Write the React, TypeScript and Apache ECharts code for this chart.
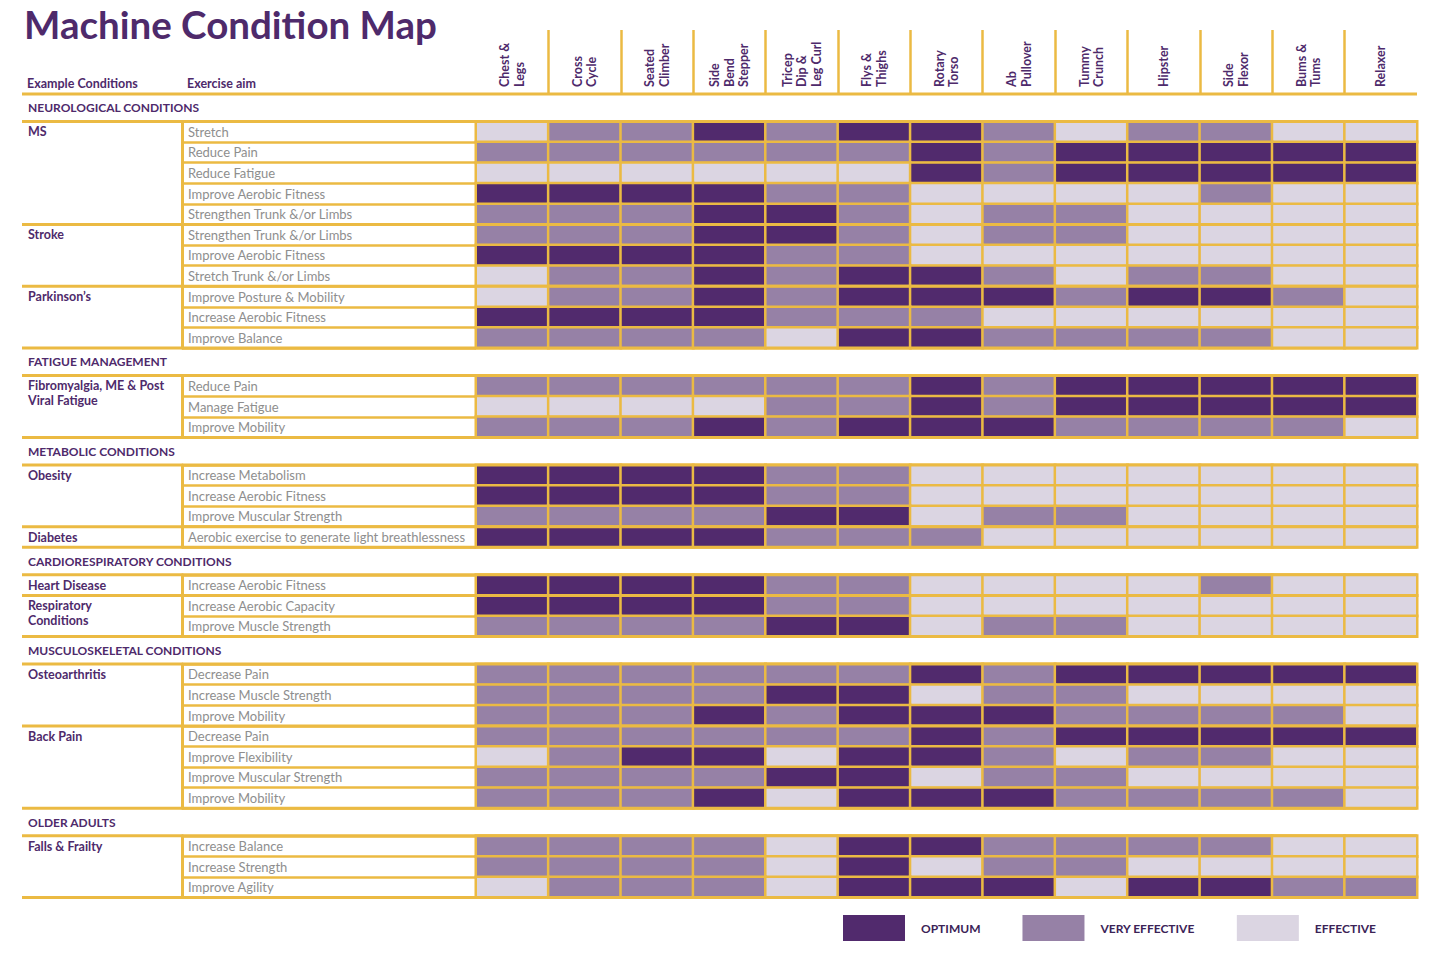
import React, { useEffect, useRef } from 'react';
import * as echarts from 'echarts';

const machines = ['Chest &\nLegs', 'Cross\nCycle', 'Seated\nClimber', 'Side\nBend\nStepper', 'Tricep\nDip &\nLeg Curl', 'Flys &\nThighs', 'Rotary\nTorso', 'Ab\nPullover', 'Tummy\nCrunch', 'Hipster', 'Side\nFlexor', 'Bums &\nTums', 'Relaxer'];

const levelLabels = ['OPTIMUM', 'VERY EFFECTIVE', 'EFFECTIVE'];
const levelValues = [3, 2, 1];

const sectionTitles = ['NEUROLOGICAL CONDITIONS', 'FATIGUE MANAGEMENT', 'METABOLIC CONDITIONS', 'CARDIORESPIRATORY CONDITIONS', 'MUSCULOSKELETAL CONDITIONS', 'OLDER ADULTS'];

const neuroConditions = ['MS', 'Stroke', 'Parkinson’s'];
const neuroAims = [
  ['Stretch', 'Reduce Pain', 'Reduce Fatigue', 'Improve Aerobic Fitness', 'Strengthen Trunk &/or Limbs'],
  ['Strengthen Trunk &/or Limbs', 'Improve Aerobic Fitness', 'Stretch Trunk &/or Limbs'],
  ['Improve Posture & Mobility', 'Increase Aerobic Fitness', 'Improve Balance'],
];
const neuroValues = [
  [1, 2, 2, 3, 2, 3, 3, 2, 1, 2, 2, 1, 1],
  [2, 2, 2, 2, 2, 2, 3, 2, 3, 3, 3, 3, 3],
  [1, 1, 1, 1, 1, 1, 3, 2, 3, 3, 3, 3, 3],
  [3, 3, 3, 3, 2, 2, 1, 1, 1, 1, 2, 1, 1],
  [2, 2, 2, 3, 3, 2, 1, 2, 2, 1, 1, 1, 1],
  [2, 2, 2, 3, 3, 2, 1, 2, 2, 1, 1, 1, 1],
  [3, 3, 3, 3, 2, 2, 1, 1, 1, 1, 1, 1, 1],
  [1, 2, 2, 3, 2, 3, 3, 2, 1, 2, 2, 1, 1],
  [1, 2, 2, 3, 2, 3, 3, 3, 2, 3, 3, 2, 1],
  [3, 3, 3, 3, 2, 2, 2, 1, 1, 1, 1, 1, 1],
  [2, 2, 2, 2, 1, 3, 3, 2, 2, 2, 2, 1, 1],
];

const fatigueConditions = ['Fibromyalgia, ME & Post\nViral Fatigue'];
const fatigueAims = [['Reduce Pain', 'Manage Fatigue', 'Improve Mobility']];
const fatigueValues = [
  [2, 2, 2, 2, 2, 2, 3, 2, 3, 3, 3, 3, 3],
  [1, 1, 1, 1, 2, 2, 3, 2, 3, 3, 3, 3, 3],
  [2, 2, 2, 3, 2, 3, 3, 3, 2, 2, 2, 2, 1],
];

const metabolicConditions = ['Obesity', 'Diabetes'];
const metabolicAims = [
  ['Increase Metabolism', 'Increase Aerobic Fitness', 'Improve Muscular Strength'],
  ['Aerobic exercise to generate light breathlessness'],
];
const metabolicValues = [
  [3, 3, 3, 3, 2, 2, 1, 1, 1, 1, 1, 1, 1],
  [3, 3, 3, 3, 2, 2, 1, 1, 1, 1, 1, 1, 1],
  [2, 2, 2, 2, 3, 3, 1, 2, 2, 1, 1, 1, 1],
  [3, 3, 3, 3, 2, 2, 2, 1, 1, 1, 1, 1, 1],
];

const cardioConditions = ['Heart Disease', 'Respiratory\nConditions'];
const cardioAims = [
  ['Increase Aerobic Fitness'],
  ['Increase Aerobic Capacity', 'Improve Muscle Strength'],
];
const cardioValues = [
  [3, 3, 3, 3, 2, 2, 1, 1, 1, 1, 2, 1, 1],
  [3, 3, 3, 3, 2, 2, 1, 1, 1, 1, 1, 1, 1],
  [2, 2, 2, 2, 3, 3, 1, 2, 2, 1, 1, 1, 1],
];

const muscConditions = ['Osteoarthritis', 'Back Pain'];
const muscAims = [
  ['Decrease Pain', 'Increase Muscle Strength', 'Improve Mobility'],
  ['Decrease Pain', 'Improve Flexibility', 'Improve Muscular Strength', 'Improve Mobility'],
];
const muscValues = [
  [2, 2, 2, 2, 2, 2, 3, 2, 3, 3, 3, 3, 3],
  [2, 2, 2, 2, 3, 3, 1, 2, 2, 1, 1, 1, 1],
  [2, 2, 2, 3, 2, 3, 3, 3, 2, 2, 2, 2, 1],
  [2, 2, 2, 2, 2, 2, 3, 2, 3, 3, 3, 3, 3],
  [1, 2, 3, 3, 1, 3, 3, 2, 1, 2, 2, 1, 1],
  [2, 2, 2, 2, 3, 3, 1, 2, 2, 1, 1, 1, 1],
  [2, 2, 2, 3, 1, 3, 3, 3, 2, 2, 2, 2, 1],
];

const olderConditions = ['Falls & Frailty'];
const olderAims = [['Increase Balance', 'Increase Strength', 'Improve Agility']];
const olderValues = [
  [2, 2, 2, 2, 1, 3, 3, 2, 2, 2, 2, 1, 1],
  [2, 2, 2, 2, 1, 3, 1, 2, 2, 1, 1, 1, 1],
  [1, 2, 2, 2, 1, 3, 3, 3, 1, 3, 3, 2, 2],
];

const YELLOW = '#EBBA43';
const PURPLE = '#4E2A6B';
const LEVEL_COLORS = ['#512A6D', '#9681A6', '#DBD5E2'];
const FONT = 'Lato, "Open Sans", sans-serif';

export default function App() {
  const ref = useRef<HTMLDivElement>(null);

  useEffect(() => {
    const chart = echarts.init(ref.current!, null, { renderer: 'svg' });

    const sections = [
      { title: sectionTitles[0], conditions: neuroConditions, aims: neuroAims, values: neuroValues },
      { title: sectionTitles[1], conditions: fatigueConditions, aims: fatigueAims, values: fatigueValues },
      { title: sectionTitles[2], conditions: metabolicConditions, aims: metabolicAims, values: metabolicValues },
      { title: sectionTitles[3], conditions: cardioConditions, aims: cardioAims, values: cardioValues },
      { title: sectionTitles[4], conditions: muscConditions, aims: muscAims, values: muscValues },
      { title: sectionTitles[5], conditions: olderConditions, aims: olderAims, values: olderValues },
    ];

    const HEAD_TOP = 30;
    const HEAD_BOTTOM = 94;
    const GAP = 27.5;
    const ROW = 20.6;
    const LEFT = 476;
    const RIGHT = 1417;
    const AIM_X = 182;
    const TABLE_X = 22;
    const TEXT_X = 28;

    const grids: any[] = [{ left: LEFT, top: HEAD_TOP, width: RIGHT - LEFT, height: HEAD_BOTTOM - HEAD_TOP }];
    const xAxes: any[] = [{
      gridIndex: 0, type: 'category', data: machines, position: 'bottom',
      axisLine: { show: false }, axisTick: { show: false },
      axisLabel: { inside: true, rotate: 90, margin: 7, interval: 0, color: PURPLE, fontWeight: 'bold', fontSize: 12.5, lineHeight: 14.5, fontFamily: FONT },
      splitLine: { show: true, showMinLine: false, showMaxLine: false, interval: 0, lineStyle: { color: YELLOW, width: 2.5 } },
    }];
    const yAxes: any[] = [{ gridIndex: 0, type: 'value', show: false, min: 0, max: 1 }];
    const series: any[] = [];
    const graphics: any[] = [];

    const hline = (y: number, x1: number, x2: number, w: number) => ({
      type: 'line', z: 100, silent: true,
      shape: { x1, y1: y, x2, y2: y },
      style: { stroke: YELLOW, lineWidth: w },
    });

    graphics.push({ type: 'text', x: 27, y: 83, style: { text: 'Example Conditions', fill: PURPLE, font: `bold 12.5px ${FONT}`, align: 'left', verticalAlign: 'middle' } });
    graphics.push({ type: 'text', x: 187, y: 83, style: { text: 'Exercise aim', fill: PURPLE, font: `bold 12.5px ${FONT}`, align: 'left', verticalAlign: 'middle' } });
    graphics.push(hline(HEAD_BOTTOM, TABLE_X, RIGHT, 3));

    let y = HEAD_BOTTOM;
    sections.forEach((s, i) => {
      const top = y + GAP;
      const nRows = s.values.length;
      const height = nRows * ROW;
      const gi = i + 1;
      grids.push({ left: LEFT, top, width: RIGHT - LEFT, height });
      xAxes.push({ gridIndex: gi, type: 'category', data: machines, show: false });
      yAxes.push({
        gridIndex: gi, type: 'category', data: s.aims.flat(), inverse: true,
        position: 'left', offset: LEFT - AIM_X,
        axisLine: { show: true, lineStyle: { color: YELLOW, width: 3 } },
        axisTick: { show: true, inside: true, interval: 0, length: LEFT - AIM_X, lineStyle: { color: YELLOW, width: 2.5 } },
        axisLabel: { inside: true, margin: 6, interval: 0, color: '#8E8E8E', fontSize: 13, fontFamily: FONT },
        splitLine: { show: false },
      });
      series.push({
        type: 'heatmap', xAxisIndex: gi, yAxisIndex: gi,
        data: s.values.flatMap((row, r) => row.map((v, c) => [c, r, v])),
        itemStyle: { borderColor: YELLOW, borderWidth: 2.5 },
        emphasis: { disabled: true },
        label: { show: false },
      });

      graphics.push({ type: 'text', x: TEXT_X, y: y + GAP / 2, style: { text: s.title, fill: PURPLE, font: `bold 12px ${FONT}`, align: 'left', verticalAlign: 'middle' } });
      graphics.push(hline(top, TABLE_X, RIGHT, 3));
      graphics.push(hline(top + height, TABLE_X, RIGHT, 3));

      let start = 0;
      s.conditions.forEach((name, ci) => {
        if (ci > 0) graphics.push(hline(top + start * ROW, TABLE_X, RIGHT, 3));
        graphics.push({
          type: 'text', x: TEXT_X, y: top + start * ROW + ROW / 2 - 7.5,
          style: { text: name, fill: PURPLE, font: `bold 12.5px ${FONT}`, lineHeight: 15, align: 'left', verticalAlign: 'top' },
        });
        start += s.aims[ci].length;
      });
      y = top + height;
    });

    const option: any = {
      animation: false,
      textStyle: { fontFamily: FONT },
      title: { text: 'Machine Condition Map', left: 24, top: 4, padding: 0, textStyle: { fontSize: 38.5, fontWeight: 'bold', color: PURPLE, fontFamily: FONT } },
      grid: grids,
      xAxis: xAxes,
      yAxis: yAxes,
      visualMap: {
        type: 'piecewise', seriesIndex: series.map((_, i) => i),
        orient: 'horizontal', inverse: true, left: 828, top: 900,
        itemWidth: 62, itemHeight: 26, itemGap: 42, textGap: 16, itemSymbol: 'rect',
        selectedMode: false,
        pieces: levelValues.map((v, i) => ({ value: v, label: levelLabels[i], color: LEVEL_COLORS[i] })),
        textStyle: { color: '#3B2357', fontWeight: 'bold', fontSize: 12, fontFamily: FONT },
      },
      graphic: { elements: graphics },
      series,
    };
    chart.setOption(option);
    return () => chart.dispose();
  }, []);

  return <div ref={ref} style={{ position: 'absolute', left: 0, top: 0, width: 1432, height: 958, background: '#fff' }} />;
}
